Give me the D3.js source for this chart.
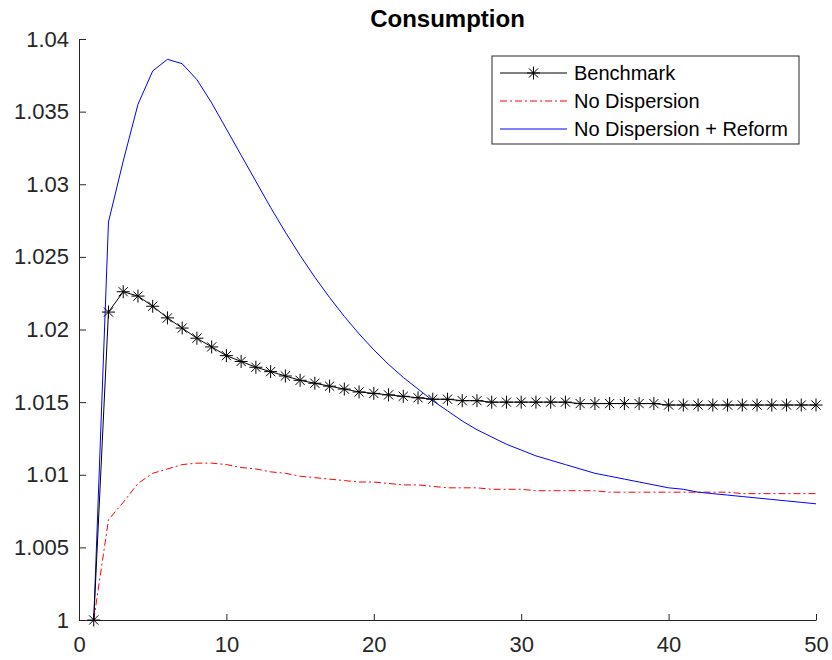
<!DOCTYPE html>
<html>
<head>
<meta charset="utf-8">
<script src="https://cdn.jsdelivr.net/npm/d3@7"></script>
<style>
  body { margin: 0; background: #fff; }
  text { font-family: "Liberation Sans", Arial, sans-serif; }
</style>
</head>
<body>
<div id="chart"></div>
<script>
"use strict";

// periods on the x axis
const periods = [1, 2, 3, 4, 5, 6, 7, 8, 9, 10,
  11, 12, 13, 14, 15, 16, 17, 18, 19, 20,
  21, 22, 23, 24, 25, 26, 27, 28, 29, 30,
  31, 32, 33, 34, 35, 36, 37, 38, 39, 40,
  41, 42, 43, 44, 45, 46, 47, 48, 49, 50];

// series values
const benchmark = [1.0000, 1.0212, 1.0226, 1.0223, 1.0216, 1.0208, 1.0201, 1.0194, 1.0188, 1.0182,
  1.0178, 1.0174, 1.0171, 1.0168, 1.0165, 1.0163, 1.0161, 1.0159, 1.0157, 1.0156,
  1.0155, 1.0154, 1.0153, 1.0152, 1.0152, 1.0151, 1.0151, 1.0150, 1.0150, 1.0150,
  1.0150, 1.0150, 1.0150, 1.0149, 1.0149, 1.0149, 1.0149, 1.0149, 1.0149, 1.0148,
  1.0148, 1.0148, 1.0148, 1.0148, 1.0148, 1.0148, 1.0148, 1.0148, 1.0148, 1.0148];

const noDispersion = [1.0000, 1.0069, 1.0081, 1.0094, 1.0101, 1.0104, 1.0107, 1.0108, 1.0108, 1.0107,
  1.0105, 1.0104, 1.0102, 1.0101, 1.0099, 1.0098, 1.0097, 1.0096, 1.0095, 1.0095,
  1.0094, 1.0093, 1.0093, 1.0092, 1.0091, 1.0091, 1.0091, 1.0090, 1.0090, 1.0090,
  1.0089, 1.0089, 1.0089, 1.0089, 1.0089, 1.0088, 1.0088, 1.0088, 1.0088, 1.0088,
  1.0088, 1.0088, 1.0088, 1.0088, 1.0087, 1.0087, 1.0087, 1.0087, 1.0087, 1.0087];

const noDispersionReform = [1.0000, 1.0274, 1.0316, 1.0355, 1.0378, 1.0386, 1.0383, 1.0372, 1.0356, 1.0338,
  1.0320, 1.0302, 1.0284, 1.0267, 1.0251, 1.0236, 1.0222, 1.0209, 1.0197, 1.0186,
  1.0176, 1.0167, 1.0159, 1.0151, 1.0144, 1.0137, 1.0131, 1.0126, 1.0121, 1.0117,
  1.0113, 1.0110, 1.0107, 1.0104, 1.0101, 1.0099, 1.0097, 1.0095, 1.0093, 1.0091,
  1.0090, 1.0088, 1.0087, 1.0086, 1.0085, 1.0084, 1.0083, 1.0082, 1.0081, 1.0080];

const xTicks = [0, 10, 20, 30, 40, 50];
const yTicks = [1, 1.005, 1.01, 1.015, 1.02, 1.025, 1.03, 1.035, 1.04];

const seriesNames = ["Benchmark", "No Dispersion", "No Dispersion + Reform"];

// dimensions
const margin = {top: 39, right: 16, bottom: 40, left: 79},
      width = 832 - margin.left - margin.right,
      height = 660 - margin.top - margin.bottom;

const axisColor = "#262626";

const svg = d3.select("#chart")
  .append("svg")
  .attr("width", 832)
  .attr("height", 660);

const g = svg.append("g")
  .attr("transform", "translate(" + margin.left + "," + margin.top + ")");

const x = d3.scaleLinear().domain([0, 50]).range([0, width]);
const y = d3.scaleLinear().domain([1, 1.04]).range([height, 0]);

// axes (ticks point inward, MATLAB style)
const xAxis = g.append("g")
  .attr("transform", "translate(0," + height + ")")
  .call(d3.axisBottom(x)
    .tickValues(xTicks)
    .tickFormat(d3.format("d"))
    .tickSizeInner(-6)
    .tickSizeOuter(0)
    .tickPadding(16));

const yAxis = g.append("g")
  .call(d3.axisLeft(y)
    .tickValues(yTicks)
    .tickFormat(d => d === 1 ? "1" : d3.format("")(+d.toFixed(3)))
    .tickSizeInner(-7)
    .tickSizeOuter(0)
    .tickPadding(10));

[xAxis, yAxis].forEach(a => {
  a.select(".domain").attr("stroke", axisColor).attr("stroke-width", 1);
  a.selectAll(".tick line").attr("stroke", axisColor).attr("stroke-width", 1);
  a.selectAll(".tick text")
    .attr("fill", axisColor)
    .style("font-size", "22px")
    .style("font-family", "'Liberation Sans', Arial, sans-serif");
});

// lines
const line = data => d3.line()
  .x((d, i) => x(periods[i]))
  .y(d => y(d))(data);

g.append("path")
  .attr("d", line(noDispersion))
  .attr("fill", "none")
  .attr("stroke", "#ff0000")
  .attr("stroke-width", 1)
  .attr("stroke-dasharray", "7,3,2,3");

g.append("path")
  .attr("d", line(noDispersionReform))
  .attr("fill", "none")
  .attr("stroke", "#0000ff")
  .attr("stroke-width", 1);

g.append("path")
  .attr("d", line(benchmark))
  .attr("fill", "none")
  .attr("stroke", "#000")
  .attr("stroke-width", 1);

// asterisk marker
const starPath = r => {
  const d = r * Math.SQRT1_2;
  return "M" + (-r) + ",0H" + r + "M0," + (-r) + "V" + r +
    "M" + (-d) + "," + (-d) + "L" + d + "," + d +
    "M" + (-d) + "," + d + "L" + d + "," + (-d);
};

g.selectAll(".star")
  .data(benchmark)
  .join("path")
  .attr("class", "star")
  .attr("transform", (d, i) => "translate(" + x(periods[i]) + "," + y(d) + ")")
  .attr("d", starPath(6.5))
  .attr("fill", "none")
  .attr("stroke", "#000")
  .attr("stroke-width", 1);

// title
svg.append("text")
  .attr("x", margin.left + width / 2)
  .attr("y", 27)
  .attr("text-anchor", "middle")
  .attr("fill", "#000")
  .style("font-size", "24px")
  .style("font-weight", "bold")
  .text("Consumption");

// legend
const legend = svg.append("g").attr("transform", "translate(492,56)");

legend.append("rect")
  .attr("width", 307)
  .attr("height", 88)
  .attr("fill", "#fff")
  .attr("stroke", axisColor)
  .attr("stroke-width", 1);

const legendStyles = [
  {color: "#000", dash: null, marker: true},
  {color: "#ff0000", dash: "7,3,2,3", marker: false},
  {color: "#0000ff", dash: null, marker: false}
];

seriesNames.forEach((name, i) => {
  const row = legend.append("g").attr("transform", "translate(0," + (17 + i * 28) + ")");
  row.append("line")
    .attr("x1", 8).attr("x2", 75)
    .attr("stroke", legendStyles[i].color)
    .attr("stroke-width", 1)
    .attr("stroke-dasharray", legendStyles[i].dash);
  if (legendStyles[i].marker) {
    row.append("path")
      .attr("transform", "translate(41.5,0)")
      .attr("d", starPath(6.5))
      .attr("fill", "none")
      .attr("stroke", "#000");
  }
  row.append("text")
    .attr("x", 82)
    .attr("dy", "0.35em")
    .attr("fill", "#000")
    .style("font-size", "20px")
    .text(name);
});
</script>
</body>
</html>
